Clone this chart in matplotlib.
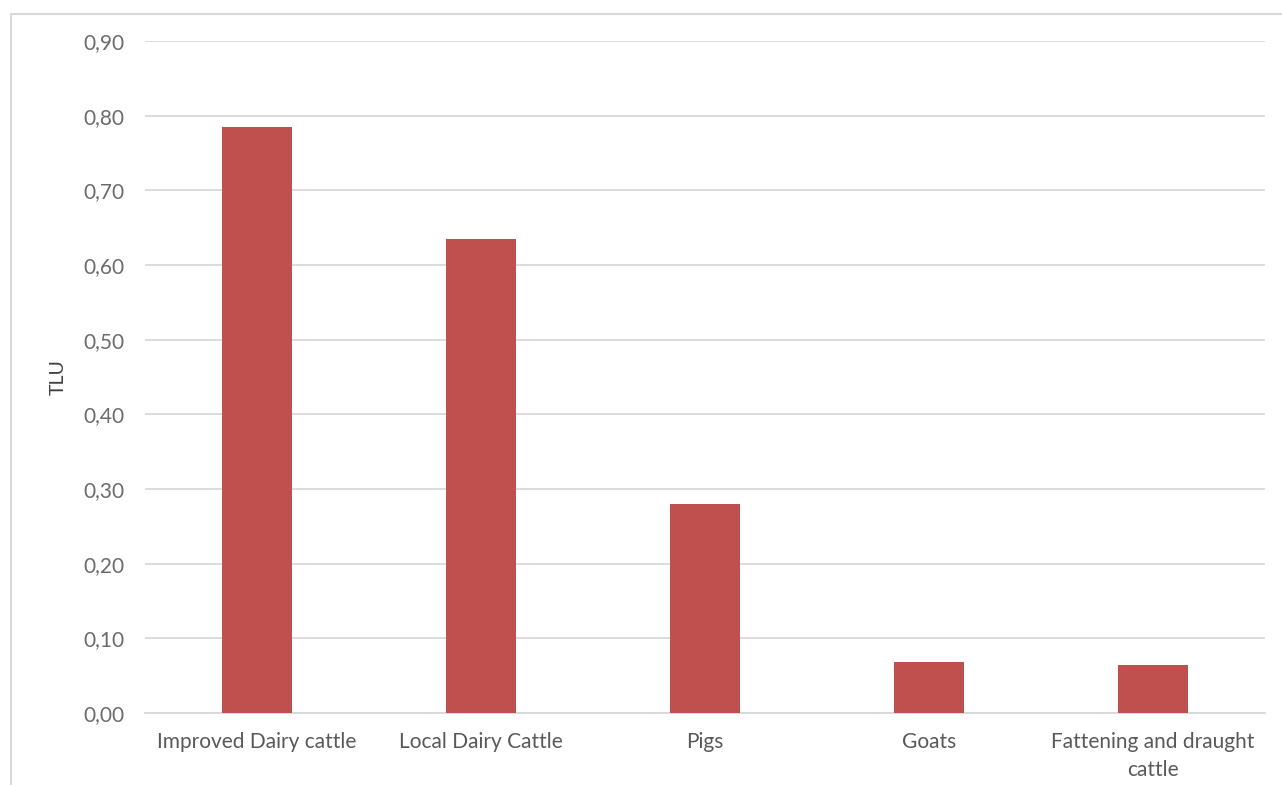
import matplotlib
matplotlib.use('Agg')
import matplotlib.pyplot as plt
from matplotlib.patches import Rectangle
from matplotlib.ticker import FuncFormatter

categories = ['Improved Dairy cattle', 'Local Dairy Cattle', 'Pigs', 'Goats',
              'Fattening and draught\ncattle']
tlu = [0.785, 0.635, 0.28, 0.068, 0.064]
yticks = [0.0, 0.1, 0.2, 0.3, 0.4, 0.5, 0.6, 0.7, 0.8, 0.9]

plt.rcParams['font.family'] = ['Lato', 'DejaVu Sans']

fig = plt.figure(figsize=(12.82, 7.85), dpi=100)
# outer chart frame (goes off the right and bottom edges)
fig.patches.append(Rectangle((11 / 1282, -0.1), 1.2, 1 - 14 / 785 + 0.1,
                             transform=fig.transFigure, fill=False,
                             edgecolor='#d9d9d9', linewidth=1.5))

ax = fig.add_axes([0.1131, 0.0917, 0.8736, 0.8561])
x = range(len(categories))
ax.bar(x, tlu, width=0.31, color='#c0504d', zorder=3)

ax.set_ylim(0, 0.9)
ax.set_xlim(-0.5, len(categories) - 0.5)
ax.set_yticks(yticks)
ax.yaxis.set_major_formatter(FuncFormatter(lambda v, p: f'{v:.2f}'.replace('.', ',')))
ax.set_xticks(list(x))
ax.set_xticklabels(categories, linespacing=1.45)
ax.grid(axis='y', color='#d9d9d9', linewidth=1.3, zorder=0)
for s in ['top', 'right', 'left']:
    ax.spines[s].set_visible(False)
ax.spines['bottom'].set_color('#d9d9d9')
ax.spines['bottom'].set_linewidth(1.3)
ax.tick_params(axis='both', length=0, labelsize=15, colors='#595959')
ax.tick_params(axis='y', pad=15, labelcolor='#6b6b6b')
ax.tick_params(axis='x', pad=14)
ax.set_ylabel('TLU', fontsize=14, color='#404040', labelpad=12)

fig.savefig('out.png', dpi=100)
